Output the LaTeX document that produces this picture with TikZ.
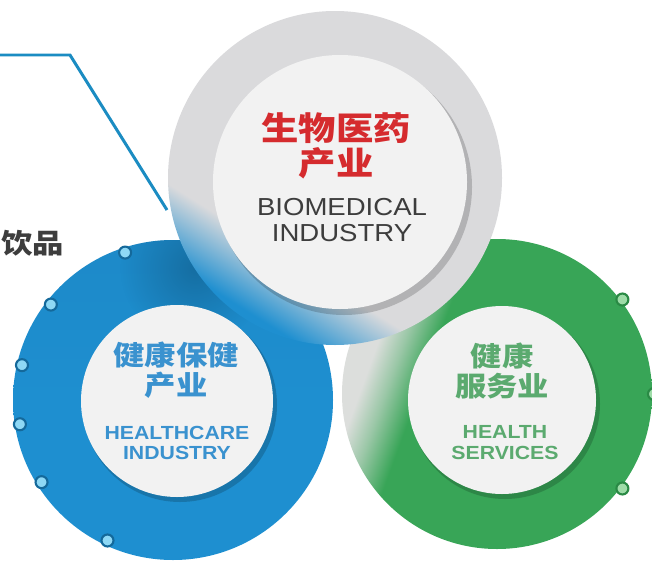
\documentclass[tikz,border=0pt]{standalone}
\usepackage{fontspec}
\usetikzlibrary{fadings}
\setmainfont{Liberation Sans}[FakeStretch=1.12]
\newfontfamily\cjk{Noto Sans CJK SC}[FakeStretch=1.15]

\definecolor{ringblue}{HTML}{1E8FD0}
\definecolor{deepblue}{HTML}{14699B}
\definecolor{ringgrey}{HTML}{DADADC}
\definecolor{fadegrey}{HTML}{DCDEDC}
\definecolor{ringgreen}{HTML}{38A557}
\definecolor{deepgreen}{HTML}{2A8A45}
\definecolor{discwhite}{HTML}{F2F2F2}
\definecolor{dotblue}{HTML}{8ED8F5}
\definecolor{dotgreen}{HTML}{9EDCA8}
\definecolor{linkblue}{HTML}{1B8CC2}
\definecolor{titlered}{HTML}{D52B2E}
\definecolor{textgrey}{HTML}{3D3D3D}
\definecolor{textblue}{HTML}{3A92CF}
\definecolor{textgreen}{HTML}{5BAA6F}

\pgfdeclarehorizontalshading{greytoblue}{100bp}{color(0bp)=(ringblue); color(26bp)=(ringblue); color(31bp)=(ringblue!50!ringgrey); color(36bp)=(ringgrey); color(100bp)=(ringgrey)}
\pgfdeclarehorizontalshading{greytogreen}{100bp}{color(0bp)=(fadegrey); color(29bp)=(fadegrey); color(33bp)=(ringgreen!40!fadegrey); color(38bp)=(ringgreen); color(100bp)=(ringgreen)}
\pgfdeclareverticalshading{bluedepth}{100bp}{color(0bp)=(ringblue); color(50bp)=(ringblue); color(75bp)=(ringblue!85!deepblue); color(100bp)=(ringblue!85!deepblue)}
\tikzfading[name=softspot, inner color=transparent!0, outer color=transparent!100]

\begin{document}
\begin{tikzpicture}[x=0.02cm, y=-0.02cm,
    disc/.style={fill=discwhite},
    discshadow/.style={fill=black, opacity=.18},
    ringshadow/.style={fill=deepblue, opacity=.85, path fading=softspot},
    bluedot/.style={draw=deepblue, fill=dotblue, line width=1.2pt},
    greendot/.style={draw=deepgreen, fill=dotgreen, line width=1.2pt},
    link/.style={draw=linkblue, line width=1.7pt},
    cnbig/.style={font=\cjk\bfseries\fontsize{18.5}{19.8}\selectfont, align=center, inner sep=0pt},
    cnmid/.style={font=\cjk\bfseries\fontsize{15.5}{17}\selectfont, align=center, inner sep=0pt},
    enbig/.style={font=\fontsize{14}{14.7}\selectfont, align=center, inner sep=0pt},
    enmid/.style={font=\bfseries\fontsize{10.8}{11.9}\selectfont, align=center, inner sep=0pt}]

    \useasboundingbox (0,0) rectangle (652,561);
    \clip (0,0) rectangle (652,561);
    \fill[white] (0,0) rectangle (652,561);

    % link line
    \coordinate (linkStart) at (0,55);
    \coordinate (linkBend) at (70,55);
    \coordinate (linkEnd) at (167,210);
    \draw[link] (linkStart) -- (linkBend) -- (linkEnd);

    \node[cnmid, text=textgrey, anchor=west] (drinkText) at (1,243) {饮品};

    % healthcare ring
    \shade[shading=bluedepth] (173,400) circle (160);
    \begin{scope}
        \clip (173,400) circle (160);
        \fill[ringshadow] (195,268) circle (75);
    \end{scope}
    \foreach \a in {108,142,167,189,212,245}
        \draw[bluedot] (173,400) ++(-\a:155) circle (6);
    \fill[discshadow] (180,405) circle (97);
    \fill[disc] (177,401) circle (96);

    % health services ring
    \shade[shading=greytogreen, shading angle=-20] (497,394) circle (155);
    \foreach \a in {37,0,-37}
        \draw[greendot] (497,394) ++(-\a:157) circle (6);
    \fill[discshadow] (505,404) circle (95);
    \fill[disc] (502,400) circle (94);

    % biomedical ring
    \shade[shading=greytoblue, shading angle=58] (335,178) circle (167);
    \fill[discshadow] (344,187) circle (128);
    \fill[disc] (340,182) circle (127);

    \node[cnbig, text=titlered] (bioCn) at (336,146) {生物医药\\产业};
    \node[enbig, text=textgrey] (bioEn) at (342,220) {BIOMEDICAL\\INDUSTRY};

    \node[cnmid, text=textblue] (careCn) at (176,370) {健康保健\\产业};
    \node[enmid, text=textblue] (careEn) at (177,443) {HEALTHCARE\\INDUSTRY};

    \node[cnmid, text=textgreen] (serviceCn) at (502,371) {健康\\服务业};
    \node[enmid, text=textgreen] (serviceEn) at (505,443) {HEALTH\\SERVICES};
\end{tikzpicture}
\end{document}
